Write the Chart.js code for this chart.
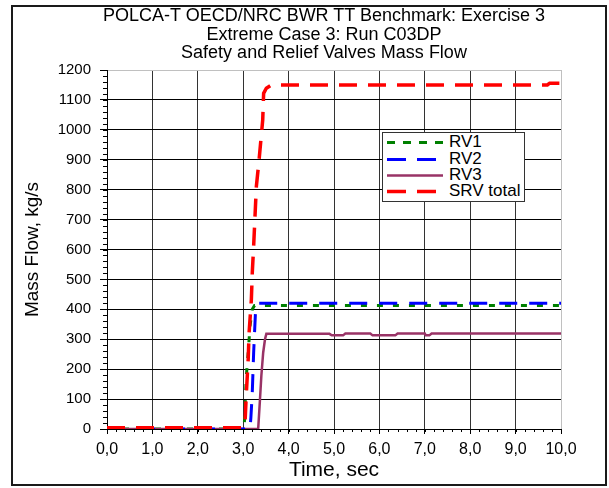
<!DOCTYPE html>
<html>
<head>
<meta charset="utf-8">
<script src="https://cdn.jsdelivr.net/npm/chart.js"></script>
<style>
  body { margin: 0; background: #fff; font-family: "Liberation Sans", Arial, sans-serif; }
  #wrap { position: relative; width: 609px; height: 488px; }
  #frame { position: absolute; left: 11px; top: 5px; width: 592px; height: 477px; border: 2px solid #1a1a1a; }
  #chart { position: absolute; left: 0; top: 0; }
  #title { position: absolute; left: 24px; top: 6px; width: 600px; text-align: center; font-size: 18px; line-height: 18.5px; white-space: nowrap; color: #000; }
  #legend { position: absolute; left: 382px; top: 132px; width: 141px; height: 68px; border: 1px solid #333; background: #fff; }
  #legend .item { position: absolute; left: 0; height: 16px; font-size: 17px; line-height: 16px; white-space: nowrap; }
  #legend svg { position: absolute; left: 4px; top: 6px; }
  #legend span { position: absolute; left: 66px; top: 0; }
</style>
</head>
<body>
<div id="wrap">
  <div id="frame"></div>
  <canvas id="chart" width="609" height="488"></canvas>
  <div id="title">POLCA-T OECD/NRC BWR TT Benchmark: Exercise 3<br>Extreme Case 3: Run C03DP<br>Safety and Relief Valves Mass Flow</div>
  <div id="legend"></div>
</div>
<script>
// values (time in s, mass flow in kg/s)
var rv1Time = [0, 3.02, 3.04, 3.07, 3.11, 3.15, 3.2, 3.25, 10];
var rv1Flow = [0, 0, 67, 178, 255, 344, 400, 413, 413];

var rv2Time = [0, 3.15, 3.17, 3.2, 3.23, 3.27, 3.31, 3.35, 10];
var rv2Flow = [0, 0, 40, 122, 255, 389, 415, 420, 420];

var rv3Time = [0, 3.33, 3.37, 3.4, 3.44, 3.48, 3.51, 4.9, 4.95, 5.2, 5.25, 5.8, 5.85, 6.35, 6.4, 7.0, 7.02, 7.1, 7.15, 10];
var rv3Flow = [0, 0, 100, 178, 255, 300, 318, 318, 313, 313, 319, 319, 313, 313, 319, 319, 313, 313, 319, 319];

var srvTime = [0, 3.0, 3.04, 3.07, 3.11, 3.13, 3.18, 3.2, 3.23, 3.26, 3.29, 3.35, 3.39, 3.43, 3.45, 3.51, 3.62, 9.7, 9.75, 10];
var srvFlow = [4, 4, 20, 122, 233, 322, 433, 522, 611, 711, 811, 900, 967, 1033, 1122, 1139, 1150, 1150, 1156, 1156];

var seriesNames = ["RV1", "RV2", "RV3", "SRV total"];
var xTicks = [0, 1, 2, 3, 4, 5, 6, 7, 8, 9, 10];
var yTicks = [0, 100, 200, 300, 400, 500, 600, 700, 800, 900, 1000, 1100, 1200];

function pts(t, v) {
  return t.map(function(x, i) { return { x: x, y: v[i] }; });
}

var FONT = "'Liberation Sans', Arial, sans-serif";

var minorTicks = {
  id: "minorTicks",
  afterDraw: function(chart) {
    var ctx = chart.ctx, x = chart.scales.x, y = chart.scales.y, a = chart.chartArea;
    ctx.save();
    ctx.strokeStyle = "#000";
    ctx.lineWidth = 1;
    ctx.beginPath();
    for (var v = 0; v <= 1200; v += 20) {
      var py = Math.round(y.getPixelForValue(v)) + 0.5;
      ctx.moveTo(a.left - 4, py);
      ctx.lineTo(a.left, py);
    }
    for (var k = 0; k <= 50; k++) {
      var px = Math.round(x.getPixelForValue(k * 0.2)) + 0.5;
      ctx.moveTo(px, a.bottom);
      ctx.lineTo(px, a.bottom + 3);
    }
    ctx.stroke();
    ctx.restore();
  }
};

var datasets = [
  { label: seriesNames[0], data: pts(rv1Time, rv1Flow), borderColor: "#008000", borderWidth: 3, borderDash: [6, 10], order: 3 },
  { label: seriesNames[1], data: pts(rv2Time, rv2Flow), borderColor: "#0000ff", borderWidth: 3, borderDash: [18, 12], order: 1 },
  { label: seriesNames[2], data: pts(rv3Time, rv3Flow), borderColor: "#993366", borderWidth: 2.5, borderDash: [], order: 2 },
  { label: seriesNames[3], data: pts(srvTime, srvFlow), borderColor: "#ff0000", borderWidth: 3.5, borderDash: [18, 11], order: 0 }
];

var ctx = document.getElementById("chart");
var myChart = new Chart(ctx, {
  type: "line",
  data: { datasets: datasets },
  options: {
    responsive: false,
    animation: false,
    layout: { padding: { left: 0, top: 70, right: 48, bottom: 2 } },
    elements: { point: { radius: 0 }, line: { tension: 0, fill: false } },
    plugins: { legend: { display: false }, tooltip: { enabled: false }, title: { display: false } },
    scales: {
      x: {
        type: "linear",
        min: 0,
        max: 10,
        afterFit: function(s) { s.height = 57; },
        afterBuildTicks: function(s) { s.ticks = xTicks.map(function(v) { return { value: v }; }); },
        ticks: {
          padding: 6,
          color: "#000",
          font: { family: FONT, size: 16 },
          callback: function(v) { return v.toFixed(1).replace(".", ","); }
        },
        grid: {
          color: function(c) { return c.tick && c.tick.value === 10 ? "#c0c0c0" : "#333"; },
          tickColor: "#000",
          tickLength: 5
        },
        border: { color: "#000", width: 1 },
        title: { display: true, text: "Time, sec", color: "#000", font: { family: FONT, size: 21 }, padding: { top: 0, bottom: 3 } }
      },
      y: {
        min: 0,
        max: 1200,
        afterFit: function(s) { s.width = 107; },
        afterBuildTicks: function(s) { s.ticks = yTicks.map(function(v) { return { value: v }; }); },
        ticks: {
          padding: 9,
          color: "#000",
          font: { family: FONT, size: 15 },
          callback: function(v) { return String(v); }
        },
        grid: {
          color: function(c) { return c.tick && c.tick.value === 1200 ? "#c0c0c0" : "#000"; },
          tickColor: "#000",
          tickLength: 7
        },
        border: { color: "#000", width: 1 },
        title: { display: true, text: "Mass Flow, kg/s", color: "#000", font: { family: FONT, size: 19 }, padding: { top: 21, bottom: 0 } }
      }
    }
  },
  plugins: [minorTicks]
});

// legend box, built from the datasets
var legend = document.getElementById("legend");
var tops = [1, 18, 34, 50];
datasets.forEach(function(d, i) {
  var item = document.createElement("div");
  item.className = "item";
  item.style.top = tops[i] + "px";
  var dash = d.label === "RV1" ? "8 8" : (d.borderDash.length ? "19 11" : "none");
  item.innerHTML = '<svg width="58" height="5"><line x1="0" y1="2.5" x2="56" y2="2.5" stroke="' + d.borderColor +
    '" stroke-width="' + d.borderWidth + '" stroke-dasharray="' + dash + '"/></svg><span>' + d.label + "</span>";
  legend.appendChild(item);
});
</script>
</body>
</html>
